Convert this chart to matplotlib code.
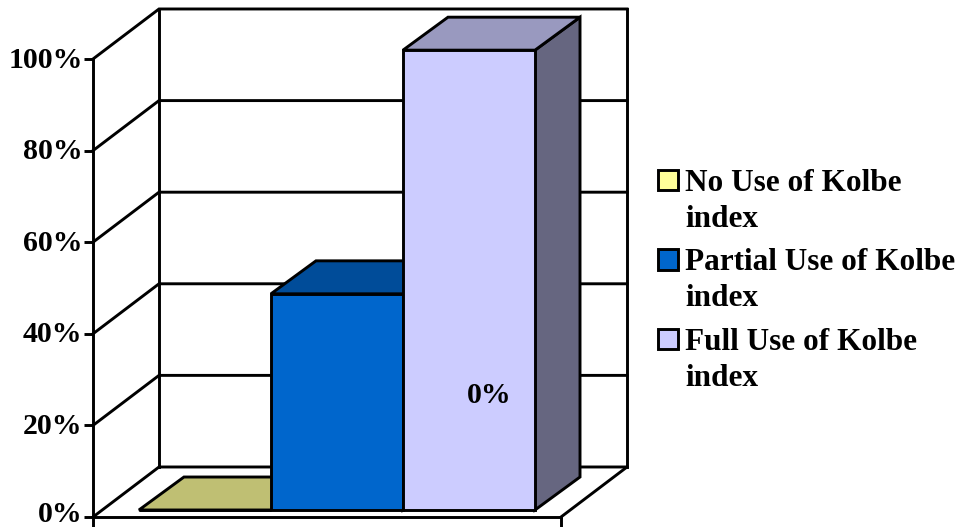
import matplotlib
matplotlib.use('Agg')
import matplotlib.pyplot as plt
from matplotlib.patches import Patch
from matplotlib.transforms import ScaledTranslation

labels = ['No Use of Kolbe\nindex', 'Partial Use of Kolbe\nindex', 'Full Use of Kolbe\nindex']
values = [0, 47.2, 100.4]
front_colors = ['#FFFF99', '#0066CC', '#CCCCFF']
top_colors = ['#BFBF73', '#004C99', '#9999BF']
side_colors = ['#808066', '#003366', '#666680']
yticks = [0, 20, 40, 60, 80, 100]
yticklabels = ['0%', '20%', '40%', '60%', '80%', '100%']

plt.rcParams['font.family'] = ['Liberation Serif', 'DejaVu Serif']
plt.rcParams['font.weight'] = 'bold'
lw = 2.1

# axes box is the front plane of the old-style 3D chart
fig = plt.figure(figsize=(9.57, 5.27), dpi=100)
ax = fig.add_axes([93 / 957, 10 / 527, 468 / 957, 458 / 527])
ax.set_xlim(-0.348, 3.197)
ax.set_ylim(0, 100)

# depth of the floor and of the bars, in data units
wall_dx, wall_dy = 0.5, 10.92
bar_dx, bar_dy = 0.341, 7.2
base = 1.53

# back wall and side wall
x0, x1 = ax.get_xlim()
for v in yticks:
    ax.plot([x0, x0 + wall_dx, x1 + wall_dx], [v, v + wall_dy, v + wall_dy],
            color='k', lw=lw, clip_on=False, solid_joinstyle='miter', zorder=1)
ax.plot([x0 + wall_dx] * 2, [wall_dy, 100 + wall_dy], color='k', lw=lw, clip_on=False, zorder=1)
ax.plot([x1 + wall_dx] * 2, [wall_dy, 100 + wall_dy], color='k', lw=lw, clip_on=False, zorder=1)
ax.plot([x1, x1 + wall_dx], [0, wall_dy], color='k', lw=lw, clip_on=False, zorder=1)

for i, v in enumerate(values):
    top = base + v
    z = 3 + i
    ax.fill([i + 1, i + 1 + bar_dx, i + 1 + bar_dx, i + 1],
            [base, base + bar_dy, top + bar_dy, top],
            fc=side_colors[i], ec='k', lw=lw, clip_on=False, zorder=z)
    ax.fill([i, i + 1, i + 1 + bar_dx, i + bar_dx],
            [top, top, top + bar_dy, top + bar_dy],
            fc=top_colors[i], ec='k', lw=lw, clip_on=False, zorder=z)
    ax.bar(i, v, width=1, bottom=base, align='edge', color=front_colors[i],
           edgecolor='k', lw=lw, clip_on=False, zorder=z)

ax.text(2.65, 26.5, '0%', ha='center', va='center', fontsize=21.5, zorder=10)

ax.spines['top'].set_visible(False)
ax.spines['right'].set_visible(False)
for s in ['left', 'bottom']:
    ax.spines[s].set_linewidth(lw)
ax.set_yticks(yticks)
ax.set_yticklabels(yticklabels, fontsize=21.5)
ax.set_xticks([x0, x1])
ax.set_xticklabels([])
ax.tick_params(axis='y', length=6.5, width=lw, pad=1)
ax.tick_params(axis='x', length=7, width=lw)

# labels sit a little above their ticks, the 0% one has to stay inside the image
for lab, up in zip(ax.get_yticklabels(), [6, 2, 2, 2, 2, 2]):
    lab.set_transform(lab.get_transform() + ScaledTranslation(0, up / 100, fig.dpi_scale_trans))

handles = [Patch(fc=c, ec='k', lw=lw) for c in front_colors]
leg = fig.legend(handles, labels, loc='upper left', bbox_to_anchor=(658 / 957, 1 - 169 / 527),
                 frameon=False, fontsize=22.5, handlelength=0.64, handleheight=0.64,
                 handletextpad=0.23, labelspacing=0.46, borderpad=0, borderaxespad=0)
for t in leg.get_texts():
    t.set_linespacing(1.32)
# put the swatch next to the first line of its label
for p in leg.get_patches():
    p.set_y(p.get_y() + 15.5)

fig.savefig('out.png', dpi=100)
